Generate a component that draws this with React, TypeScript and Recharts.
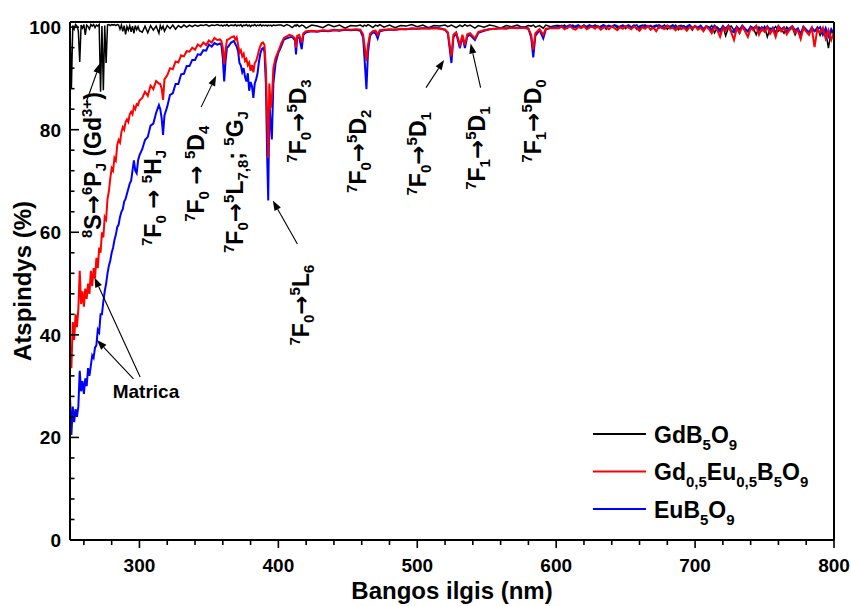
import React from 'react';
import { LineChart, Line, XAxis, YAxis, ReferenceLine, ReferenceDot, Legend } from 'recharts';

// ---- Wavelength grid (nm), split by spectral region ----
const edgeNm = [
  250, 251, 252, 253, 254, 255, 256, 257, 258, 259,
  260, 261, 262, 263, 264, 265, 266, 267, 268, 269,
  270, 271, 272, 273, 274, 275, 276, 277, 278, 279,
  280, 281, 282, 283, 284, 285, 286, 287, 288, 289,
  290, 291, 292, 293, 294, 295, 296, 297, 298, 299,
  300,
];
const nearUvNm = [
  302, 304, 306, 308, 310, 312, 314, 315, 316, 317,
  318, 320, 322, 324, 326, 328, 330, 332, 334, 336,
  338, 340, 342, 344, 346, 348, 350, 352, 354, 356,
  358, 359, 360, 361, 362, 363, 364, 366, 368, 369,
  370, 371, 372, 373, 374, 375, 376, 377, 378, 379,
  380, 381, 382, 383, 384, 385, 386, 387, 388, 389,
  390, 391, 392, 392.7, 393.5, 394.5, 395.3, 396.4, 398, 400,
];
const visibleNm = [
  402, 404, 406, 408, 410, 412,
  412.7, 413.5, 415, 416.8, 418,
  420, 424, 428, 432, 436, 440, 444, 448, 452, 456,
  459, 461, 462, 463.4, 464.5, 466, 468, 470, 471.5, 473,
  476, 480, 484, 488, 492, 496, 500, 504, 508, 512, 516, 520,
  522, 524.6, 526, 528, 530.7, 532.5, 534.3, 536, 538, 541.5,
  544, 548, 552, 556, 560, 564, 568, 572, 576, 580,
  582, 583.5, 585, 588, 590.7, 592.5, 596, 600,
];
const redNm = [
  602, 604, 606, 608, 610, 612, 614, 616, 618, 620,
  622, 624, 626, 628, 630, 632, 634, 636, 638, 640,
  642, 644, 646, 648, 650, 652, 654, 656, 658, 660,
  662, 664, 666, 668, 670, 672, 674, 676, 678, 680,
  682, 684, 686, 688, 690, 692, 694, 696, 698, 700,
  702, 704, 706, 708, 710, 712, 714, 716, 718, 720,
  722, 724, 726, 728, 730, 732, 734, 736, 738, 740,
  742, 744, 746, 748, 750, 752, 754, 756, 758, 760,
  762, 764, 766, 768, 770, 772, 774, 776, 778, 780,
  782, 784, 786, 788, 790, 792, 794, 796, 798, 800,
];

// ---- GdB5O9 reflectance (%) ----
const gdEdge = [
  100.4, 88, 100.3, 99.6, 100.5, 100.2, 99.3, 93.2, 100.4, 99.8,
  100.5, 98.5, 100.4, 100.1, 99.6, 100.5, 100.2, 100.5, 99.9, 100.4,
  100.2, 100.5, 87.4, 100.2, 87.7, 100.3, 93, 100.4, 100.5, 100.3,
  100.5, 100.4, 100.5, 100.3, 100.5, 100.4, 99.6, 100.4, 99.2, 100.3,
  98.6, 100.1, 99.4, 100.3, 99.1, 100.2, 98.8, 100.3, 99.5, 100.1,
  99.3,
];
const gdNearUv = [
  99, 100.2, 98.9, 100.3, 99.4, 100.2, 98.8, 100.3, 99.6, 100.2,
  99.2, 100.3, 99.7, 100.4, 99.6, 100.3, 99.9, 100.4, 100, 100.4,
  100.1, 100.4, 100.2, 100.4, 100.3, 100.5, 100.2, 100.4, 100.3, 100.5,
  100.3, 100.4, 100.2, 100.4, 100.3, 100.5, 100.2, 100.4, 100.3, 100.5,
  100.2, 100.4, 100.3, 100.5, 100.1, 100.4, 100.3, 100.5, 100.2, 100.4,
  100.1, 100.4, 100.3, 100.5, 100.2, 100.4, 100.3, 100.5, 100.2, 100.4,
  100.3, 100.4, 100.2, 100.4, 100.3, 100.4, 100.2, 100.4, 100.3, 100.4,
];
const gdVisible = [
  100.4, 100.2, 100.5, 100.3, 99.9, 100.4,
  100.2, 100.5, 100.1, 100.4, 100.3,
  99.8, 100.4, 100.2, 99.9, 100.5, 100.1, 100.4, 99.8, 100.3, 100.2,
  100.4, 100.1, 100.4, 100.2, 100.5, 100.3, 99.9, 100.4, 100.2, 100.5,
  100, 100.4, 99.9, 100.3, 100.2, 100.5, 100.1, 100.4, 99.9, 100.3, 100.2, 100.4,
  100.1, 100.4, 100.2, 99.9, 100.4, 100.1, 100.5, 100.2, 100.4, 99.8,
  100.3, 100, 100.4, 100.2, 99.8, 100.3, 100.1, 100.4, 99.9, 100.3,
  100.2, 100.4, 100, 100.3, 99.8, 100.4, 100.1, 100.3,
];
const gdRed = [
  100.3, 100, 100.4, 99.8, 100.2, 100.4, 99.9, 100.3, 100.1, 100.4,
  99.7, 100.3, 100.2, 100.4, 99.9, 100.2, 100.4, 99.6, 100.3, 100.1,
  100.4, 99.8, 100.2, 100.4, 99.7, 100.3, 100, 100.4, 99.6, 100.2,
  100.4, 99.9, 100.3, 99.5, 100.2, 100.4, 99.8, 100.1, 100.4, 99.6,
  100.2, 99.9, 100.4, 99.5, 100.1, 100.3, 99.7, 100.2, 99.4, 100.3,
  99.8, 100.2, 99.3, 100.1, 99.7, 100.3, 98.9, 100, 99.5, 100.2,
  98.3, 99.9, 100.2, 99.4, 100, 98.8, 100.2, 99.6, 99.1, 100.1,
  99.7, 98.5, 100, 99.3, 100.1, 98.1, 99.8, 99.5, 100.1, 99.2,
  99.6, 98.8, 100, 99.4, 99.9, 98.5, 99.7, 97.8, 100, 99.3,
  98.9, 99.8, 99.2, 100, 98.4, 99.6, 99.1, 95.9, 99.4, 98.6,
];

// ---- Gd0,5Eu0,5B5O9 reflectance (%) ----
const mixEdge = [
  37, 33.5, 42.5, 39, 44, 41.5, 45, 52.5, 46, 48.5,
  45.5, 49, 47, 50, 48, 52.5, 49.5, 53, 51, 55,
  53, 57, 56, 60, 59, 63, 62.5, 66.5, 68, 70.5,
  72.5, 72, 74.5, 74, 77, 78, 77.5, 79.5, 80.5, 80,
  81.5, 82, 81.5, 83, 83.5, 83, 84.5, 84, 85, 84.8,
  85.7,
];
const mixNearUv = [
  86.2, 87.4, 86.6, 88.6, 87.9, 89.5, 89, 88.9, 88, 85.8,
  89.8, 90.6, 92, 91.8, 93.3, 93.1, 94.5, 94.3, 95.3, 95.2,
  96, 95.6, 96.6, 96.2, 97, 96.5, 97.4, 97, 97.9, 97.5,
  97.6, 97.3, 96, 92.8, 95.5, 97.5, 97.6, 98, 98.2, 97.6,
  98, 96.6, 95, 95.5, 94.3, 94.8, 93.4, 93.8, 92.6, 93.1,
  91.5, 92.6, 91.2, 93, 93.4, 94.3, 95.5, 96.3, 96.9, 97,
  96.5, 92, 82, 74.5, 89, 84.2, 86, 92, 94, 95.3,
];
const mixVisible = [
  96.8, 97.9, 98.2, 98.5, 98.3, 97.8,
  96, 98.3, 98.5, 97, 98.8,
  99.2, 99.3, 99.2, 99.4, 99.3, 99.5, 99.4, 99.6, 99.5, 99.6,
  99.5, 98.6, 96.5, 93.4, 96.5, 98.7, 99.2, 99.3, 98.5, 99.4,
  99.5, 99.6, 99.5, 99.7, 99.6, 99.8, 99.7, 99.8, 99.7, 99.8, 99.7, 99.5,
  99, 94.3, 98.5, 99, 96.5, 98.5, 96.5, 98.6, 98.8, 97.8,
  99.1, 99.4, 99.6, 99.7, 99.8, 99.7, 99.9, 99.8, 99.9, 99.7,
  98.5, 95.6, 98.8, 99.6, 98.5, 99.7, 99.8, 99.8,
];
const mixRed = [
  99.8, 100.1, 99.6, 99.9, 100.2, 99.7, 99.5, 100, 99.8, 100.2,
  99.6, 99.9, 100.1, 99.7, 100.2, 99.5, 99.9, 100, 99.6, 100.1,
  99.8, 99.4, 100, 99.7, 100.2, 99.9, 99.6, 100.1, 99.8, 99.3,
  100, 99.7, 100.2, 99.5, 99.9, 99.2, 100.1, 99.8, 99.6, 100.2,
  99.7, 99.9, 99.4, 100.1, 99.6, 99.9, 99.3, 100, 99.7, 100.2,
  99.5, 99.9, 99.2, 100.1, 99.6, 98.8, 100, 99.4, 98.1, 99.9,
  99.3, 100.2, 99, 97.5, 99.8, 98.9, 100.1, 99.2, 98.1, 99.8,
  99.4, 100.2, 98.5, 99.7, 99.1, 100, 98.7, 99.6, 98.1, 100.1,
  99.2, 99.8, 98.6, 99.5, 100.1, 98.9, 99.4, 97.7, 99.9, 99.1,
  98.5, 99.8, 96.1, 99.6, 98.9, 99.9, 97.8, 99.4, 97.5, 99,
];

// ---- EuB5O9 reflectance (%) ----
const euEdge = [
  28, 20.5, 26, 23, 25.5, 24, 26, 33, 29, 31,
  28.5, 31.5, 30, 33.5, 32, 34, 36, 35.5, 37.5, 38,
  41, 40.5, 44, 44, 46.5, 48.5, 50, 52, 53.5, 54.5,
  56, 57, 58.5, 59.5, 61, 61.5, 63, 64, 64.5, 66,
  66.5, 67.5, 68.5, 69.5, 70, 72, 74, 72, 71.5, 74,
  75,
];
const euNearUv = [
  76.2, 78, 78.6, 80.8, 81.2, 83.3, 84.8, 84, 82.2, 79,
  82.8, 84.5, 86.8, 87.1, 88.9, 88.9, 90.8, 90.9, 92.4, 92.4,
  93.6, 93.6, 94.7, 94.6, 95.5, 95.4, 96.6, 96.2, 96.9, 96.6,
  96.8, 96.5, 94, 89.4, 93.5, 96, 96.2, 97, 97.3, 96.7,
  96.2, 95.3, 93, 92.5, 91.2, 92, 90.3, 89.4, 91, 87.6,
  89.3, 88.5, 86.2, 89, 89.8, 91, 93.2, 94.8, 95.7, 95.9,
  95.2, 89, 74, 66.2, 85.5, 81, 78.1, 89, 93, 95,
];
const euVisible = [
  96.2, 97.6, 97.8, 98, 98.1, 97.4,
  94.7, 97.9, 98, 95.7, 98.5,
  99, 99.2, 99.1, 99.3, 99.2, 99.4, 99.3, 99.5, 99.4, 99.5,
  99.3, 98, 94, 87.9, 95, 98.3, 99, 98.8, 97.8, 99.2,
  99.4, 99.5, 99.5, 99.6, 99.6, 99.7, 99.7, 99.8, 99.8, 99.9, 99.8, 99.5,
  98.8, 93, 98, 98.8, 95.9, 98.2, 95.9, 98.2, 98.5, 97.5,
  98.9, 99.3, 99.6, 99.7, 99.8, 99.8, 99.9, 99.9, 100, 99.7,
  98, 94.1, 98.3, 99.4, 97.8, 99.5, 99.9, 100,
];
const euRed = [
  100.1, 100.3, 99.9, 100.2, 100.4, 100, 100.2, 100.4, 99.9, 100.3,
  100.1, 100.4, 100, 100.3, 100.2, 99.9, 100.4, 100.1, 100.3, 100,
  100.4, 100.2, 99.9, 100.3, 100.1, 100.4, 100, 100.2, 100.4, 99.8,
  100.2, 100.4, 100, 100.3, 99.9, 100.2, 100.4, 100.1, 99.8, 100.3,
  100, 100.4, 99.7, 100.2, 100.3, 99.8, 100.1, 100.4, 99.9, 100.2,
  99.9, 100.3, 99.6, 100.2, 100, 99.4, 100.3, 99.8, 99.1, 100.2,
  99.7, 100.3, 99.3, 99, 100.1, 99.5, 100.3, 99.7, 99.2, 100.1,
  99.8, 100.2, 99.3, 100, 99.6, 100.2, 99.2, 99.9, 98.9, 100.2,
  99.6, 100, 99.1, 99.8, 100.2, 99.4, 99.7, 98.7, 100.1, 99.5,
  99, 99.9, 99.2, 99.6, 100, 98.5, 99.8, 98.2, 99.6, 98.8,
];

// ---- Axis ticks ----
const xMajorTicks = [300, 400, 500, 600, 700, 800];
const xMinorTicks = [260, 280, 320, 340, 360, 380, 420, 440, 460, 480, 520, 540, 560, 580, 620, 640, 660, 680, 720, 740, 760, 780];
const yMajorTicks = [0, 20, 40, 60, 80, 100];
const yMinorTicks = [4, 8, 12, 16, 24, 28, 32, 36, 44, 48, 52, 56, 64, 68, 72, 76, 84, 88, 92, 96];
const xDomain = [250, 800];
const yDomain = [0, 101];

// ---- Text with super/subscripts: kind 1 = sup, -1 = sub, 0 = normal, 2 = arrow glyph ----
type Part = [string, number];

const gdFormula: Part[] = [['GdB', 0], ['5', -1], ['O', 0], ['9', -1]];
const mixFormula: Part[] = [['Gd', 0], ['0,5', -1], ['Eu', 0], ['0,5', -1], ['B', 0], ['5', -1], ['O', 0], ['9', -1]];
const euFormula: Part[] = [['EuB', 0], ['5', -1], ['O', 0], ['9', -1]];

// Transition labels, anchored at (wavelength, reflectance) with vertical text
const transitionLabels: { nm: number; pct: number; parts: Part[] }[] = [
  { nm: 272.4, pct: 73.1, parts: [['8', 1], ['S', 0], ['→', 2], ['6', 1], ['P', 0], ['J', -1], [' (Gd', 0], ['3+', 1], [')', 0]] },
  { nm: 315.6, pct: 66.7, parts: [['7', 1], ['F', 0], ['0', -1], [' ', 0], ['→', 2], [' ', 0], ['5', 1], ['H', 0], ['J', -1]] },
  { nm: 346.5, pct: 71.4, parts: [['7', 1], ['F', 0], ['0', -1], [' ', 0], ['→', 2], [' ', 0], ['5', 1], ['D', 0], ['4', -1]] },
  { nm: 374.6, pct: 69.8, parts: [['7', 1], ['F', 0], ['0', -1], ['→', 2], ['5', 1], ['L', 0], ['7,8', -1], ['; ', 0], ['5', 1], ['G', 0], ['J', -1]] },
  { nm: 422.1, pct: 45.8, parts: [['7', 1], ['F', 0], ['0', -1], ['→', 2], ['5', 1], ['L', 0], ['6', -1]] },
  { nm: 419.9, pct: 81.7, parts: [['7', 1], ['F', 0], ['0', -1], ['→', 2], ['5', 1], ['D', 0], ['3', -1]] },
  { nm: 463.1, pct: 75.8, parts: [['7', 1], ['F', 0], ['0', -1], ['→', 2], ['5', 1], ['D', 0], ['2', -1]] },
  { nm: 506.3, pct: 75.3, parts: [['7', 1], ['F', 0], ['0', -1], ['→', 2], ['5', 1], ['D', 0], ['1', -1]] },
  { nm: 548.7, pct: 76.4, parts: [['7', 1], ['F', 0], ['1', -1], ['→', 2], ['5', 1], ['D', 0], ['1', -1]] },
  { nm: 589.0, pct: 81.7, parts: [['7', 1], ['F', 0], ['1', -1], ['→', 2], ['5', 1], ['D', 0], ['0', -1]] },
];

const matricaLabel = { nm: 304.7, pct: 27.7, text: 'Matrica' };

// Pointer arrows: from [nm, %] to [nm, %]
const pointerArrows: [number, number, number, number][] = [
  [261.7, 85.4, 271.7, 93.0],
  [344.4, 84.4, 355.2, 90.5],
  [413.7, 57.7, 396.0, 66.2],
  [506.3, 88.2, 519.3, 93.6],
  [545.6, 88.2, 538.4, 96.8],
  [300.5, 31.8, 267.6, 51.2],
  [295.7, 31.4, 269.4, 39.0],
];

const FONT = '"Liberation Sans", Arial, Helvetica, sans-serif';
const ARROW_FONT = '"DejaVu Sans", sans-serif';

const series = [
  { key: 'gd', color: '#000000', width: 1.5, parts: gdFormula },
  { key: 'eu', color: '#0000ff', width: 2, parts: euFormula },
  { key: 'mix', color: '#ff0000', width: 2, parts: mixFormula },
];
const legendOrder = ['gd', 'mix', 'eu'];

const rows = (() => {
  const nm = [...edgeNm, ...nearUvNm, ...visibleNm, ...redNm];
  const gd = [...gdEdge, ...gdNearUv, ...gdVisible, ...gdRed];
  const mix = [...mixEdge, ...mixNearUv, ...mixVisible, ...mixRed];
  const eu = [...euEdge, ...euNearUv, ...euVisible, ...euRed];
  return nm.map((w, i) => ({ nm: w, gd: gd[i], mix: mix[i], eu: eu[i] }));
})();

function richText(parts: Part[], base: number, small: number, supShift: number, subShift: number) {
  let offset = 0;
  return parts.map(([t, k], i) => {
    const target = k === 1 ? -supShift : k === -1 ? subShift : 0;
    const dy = target - offset;
    offset = target;
    if (k === 2) {
      return (
        <tspan key={i} dy={dy} fontSize={base} fontFamily={ARROW_FONT}>
          {t}
        </tspan>
      );
    }
    return (
      <tspan key={i} dy={dy} fontSize={k === 0 ? base : small}>
        {t}
      </tspan>
    );
  });
}

const XTick = (props: any) => {
  const { x, y, payload } = props;
  const major = xMajorTicks.includes(payload.value);
  return (
    <g>
      <line x1={x} y1={y} x2={x} y2={y + (major ? 8 : 5)} stroke="#000" strokeWidth={1.6} />
      {major && (
        <text x={x} y={y + 32} textAnchor="middle" fontSize={19} fontWeight="bold" fontFamily={FONT} fill="#000">
          {payload.value}
        </text>
      )}
    </g>
  );
};

const YTickLeft = (props: any) => {
  const { x, y, payload } = props;
  const major = yMajorTicks.includes(payload.value);
  return (
    <g>
      <line x1={x} y1={y} x2={x + (major ? 9 : 4.5)} y2={y} stroke="#000" strokeWidth={1.6} />
      {major && (
        <text x={x - 9} y={y + 7} textAnchor="end" fontSize={19} fontWeight="bold" fontFamily={FONT} fill="#000">
          {payload.value}
        </text>
      )}
    </g>
  );
};

const YTickRight = (props: any) => {
  const { x, y, payload } = props;
  const major = yMajorTicks.includes(payload.value);
  return <line x1={x} y1={y} x2={x - (major ? 9 : 4.5)} y2={y} stroke="#000" strokeWidth={1.6} />;
};

const VerticalLabel = (props: any) => {
  const { cx, cy, parts } = props;
  if (cx == null || cy == null) return null;
  return (
    <g transform={`translate(${cx},${cy}) rotate(-90)`}>
      <text x={0} y={0} textAnchor="middle" fontFamily={FONT} fontWeight="bold" fill="#000" style={{ whiteSpace: 'pre' }}>
        {richText(parts, 23, 15, 9, 5)}
      </text>
    </g>
  );
};

const ArrowShape = (props: any) => {
  const { x1, y1, x2, y2 } = props;
  if ([x1, y1, x2, y2].some((v) => v == null || isNaN(v))) return null;
  const dx = x2 - x1;
  const dy = y2 - y1;
  const len = Math.sqrt(dx * dx + dy * dy) || 1;
  const ux = dx / len;
  const uy = dy / len;
  const head = 10;
  const half = 3.6;
  const bx = x2 - ux * head;
  const by = y2 - uy * head;
  return (
    <g>
      <line x1={x1} y1={y1} x2={bx} y2={by} stroke="#000" strokeWidth={1.1} />
      <polygon
        points={`${x2},${y2} ${bx - uy * half},${by + ux * half} ${bx + uy * half},${by - ux * half}`}
        fill="#000"
      />
    </g>
  );
};

const LegendBox = () => {
  const rowY = [16, 53.5, 91];
  return (
    <svg width={260} height={112} style={{ display: 'block', overflow: 'visible' }}>
      {legendOrder.map((k, i) => {
        const s = series.find((d) => d.key === k)!;
        return (
          <g key={k}>
            <line x1={3} y1={rowY[i]} x2={56} y2={rowY[i]} stroke={s.color} strokeWidth={2} />
            <text x={64} y={rowY[i] + 8.5} fontFamily={FONT} fontWeight="bold" fill="#000">
              {richText(s.parts, 23, 15, 8, 7)}
            </text>
          </g>
        );
      })}
    </svg>
  );
};

export default function App() {
  return (
    <div style={{ position: 'absolute', left: 0, top: 0, background: '#fff' }}>
      <LineChart width={851} height={606} data={rows} margin={{ top: 22, right: 0, bottom: 0, left: 0 }}>
        <XAxis
          dataKey="nm"
          type="number"
          domain={xDomain}
          ticks={[...xMajorTicks, ...xMinorTicks].sort((a, b) => a - b)}
          interval={0}
          height={66}
          tickSize={0}
          tickMargin={0}
          tickLine={false}
          axisLine={{ stroke: '#000', strokeWidth: 2 }}
          tick={<XTick />}
          label={(p: any) => {
            const vb = p.viewBox || { x: 70, y: 540, width: 764, height: 66 };
            return (
              <text x={vb.x + vb.width / 2} y={vb.y + 59} textAnchor="middle" fontSize={24} fontWeight="bold" fontFamily={FONT} fill="#000">
                Bangos ilgis (nm)
              </text>
            );
          }}
        />
        <YAxis
          type="number"
          domain={yDomain}
          ticks={[...yMajorTicks, ...yMinorTicks].sort((a, b) => a - b)}
          interval={0}
          width={70}
          tickSize={0}
          tickMargin={0}
          tickLine={false}
          axisLine={{ stroke: '#000', strokeWidth: 2 }}
          tick={<YTickLeft />}
          label={(p: any) => {
            const vb = p.viewBox || { x: 0, y: 22, width: 70, height: 518 };
            const cy = vb.y + vb.height / 2;
            return (
              <text
                x={31}
                y={cy}
                transform={`rotate(-90, 31, ${cy})`}
                textAnchor="middle"
                fontSize={24}
                fontWeight="bold"
                fontFamily={FONT}
                fill="#000"
              >
                Atspindys (%)
              </text>
            );
          }}
        />
        <YAxis
          yAxisId="right"
          orientation="right"
          type="number"
          domain={yDomain}
          ticks={[...yMajorTicks, ...yMinorTicks].sort((a, b) => a - b)}
          interval={0}
          width={17}
          tickSize={0}
          tickMargin={0}
          tickLine={false}
          axisLine={{ stroke: '#000', strokeWidth: 2 }}
          tick={<YTickRight />}
        />
        <ReferenceLine y={yDomain[1]} stroke="#000" strokeWidth={2} />

        {series.map((s) => (
          <Line
            key={s.key}
            dataKey={s.key}
            type="linear"
            stroke={s.color}
            strokeWidth={s.width}
            dot={false}
            activeDot={false}
            isAnimationActive={false}
          />
        ))}

        {pointerArrows.map((a, i) => (
          <ReferenceLine
            key={`arrow-${i}`}
            segment={[
              { x: a[0], y: a[1] },
              { x: a[2], y: a[3] },
            ]}
            ifOverflow="visible"
            shape={(p: any) => <ArrowShape {...p} />}
          />
        ))}

        {transitionLabels.map((l, i) => (
          <ReferenceDot
            key={`lbl-${i}`}
            x={l.nm}
            y={l.pct}
            r={0}
            ifOverflow="visible"
            shape={(p: any) => <VerticalLabel cx={p.cx} cy={p.cy} parts={l.parts} />}
          />
        ))}

        <ReferenceDot
          x={matricaLabel.nm}
          y={matricaLabel.pct}
          r={0}
          ifOverflow="visible"
          shape={(p: any) =>
            p.cx == null ? null : (
              <text x={p.cx} y={p.cy} textAnchor="middle" fontSize={19} fontWeight="bold" fontFamily={FONT} fill="#000">
                {matricaLabel.text}
              </text>
            )
          }
        />

        <Legend
          layout="vertical"
          align="center"
          verticalAlign="middle"
          wrapperStyle={{ position: 'absolute', left: 590, top: 418, width: 260, height: 112 }}
          content={() => <LegendBox />}
        />
      </LineChart>
    </div>
  );
}
